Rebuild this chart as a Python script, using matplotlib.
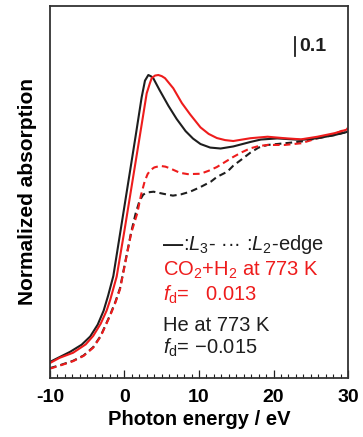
import matplotlib
matplotlib.use("Agg")
import matplotlib.pyplot as plt

plt.rcParams['font.family'] = ['Liberation Sans', 'DejaVu Sans']
plt.rcParams['mathtext.fontset'] = 'custom'
plt.rcParams['mathtext.rm'] = 'Liberation Sans'
plt.rcParams['mathtext.it'] = 'Liberation Sans:italic'
plt.rcParams['mathtext.bf'] = 'Liberation Sans:bold'

# ---- data (photon energy in eV, normalized absorption) ----
he_L3_E = [-10, -8.7, -7.3, -5.75, -4.6, -3.6, -2.8, -2.2, -1.5, -0.5, 0.5, 1.5, 2.3, 2.75, 3.2,
           3.6, 3.9, 4.7, 5.9, 7.0, 8.2, 9.2, 10.2, 11.5, 12.9, 14.6, 16.9, 18.3, 20.5, 23.7, 25.9,
           28.2, 30]
he_L3_y = [0.086, 0.112, 0.140, 0.178, 0.222, 0.285, 0.360, 0.440, 0.545, 0.795, 1.045, 1.295, 1.500,
           1.590, 1.620, 1.612, 1.600, 1.540, 1.455, 1.385, 1.320, 1.280, 1.251, 1.232, 1.227, 1.238,
           1.262, 1.275, 1.281, 1.273, 1.282, 1.299, 1.317]

co2_L3_E = [-10, -8.7, -6.9, -5.2, -4.2, -3.2, -2.4, -1.9, -1.05, 0, 1, 2, 2.98, 3.4, 3.65, 4.1,
            4.54, 5.0, 5.44, 6.55, 7.7, 8.8, 10.2, 11.3, 12.4, 13.5, 14.6, 16.9, 19.2, 21.5, 23.7,
            25.9, 28.2, 30]
co2_L3_y = [0.080, 0.108, 0.135, 0.180, 0.225, 0.290, 0.360, 0.420, 0.542, 0.790, 1.035, 1.280, 1.522,
            1.575, 1.603, 1.617, 1.620, 1.614, 1.603, 1.549, 1.470, 1.410, 1.340, 1.305, 1.283, 1.272,
            1.267, 1.282, 1.290, 1.282, 1.276, 1.290, 1.309, 1.330]

he_L2_E = [-10, -8.7, -6.9, -5.5, -4.2, -3.2, -1.95, -1.2, -0.6, 0.1, 0.9, 1.5, 2.0, 2.5, 3.0, 3.9,
           5.2, 6.5, 7.6, 8.8, 10.2, 11.6, 12.4, 13.8, 14.6, 15.6, 16.9, 18.0, 19.2, 21.5, 23.7,
           25.9, 28.2, 30]
he_L2_y = [0.053, 0.068, 0.092, 0.120, 0.165, 0.225, 0.335, 0.410, 0.480, 0.620, 0.780, 0.880, 0.945,
           0.980, 0.992, 0.996, 0.985, 0.975, 0.982, 0.996, 1.021, 1.050, 1.075, 1.103, 1.135, 1.165,
           1.205, 1.232, 1.246, 1.255, 1.264, 1.282, 1.299, 1.317]

co2_L2_E = [-10, -8.7, -6.9, -5.5, -4.2, -3.2, -1.95, -1.2, -0.6, 0.1, 0.9, 1.72, 2.2, 2.7, 3.1,
            3.5, 4.0, 4.8, 5.5, 6.1, 7.45, 8.5, 10.2, 11.3, 12.4, 13.5, 14.6, 15.8, 16.9, 18.0,
            19.2, 21.5, 23.7, 25.9, 28.2, 30]
co2_L2_y = [0.050, 0.066, 0.090, 0.118, 0.162, 0.222, 0.332, 0.405, 0.475, 0.615, 0.775, 0.881, 0.975,
            1.050, 1.090, 1.112, 1.126, 1.134, 1.130, 1.121, 1.097, 1.090, 1.092, 1.108, 1.128, 1.155,
            1.182, 1.208, 1.228, 1.240, 1.246, 1.246, 1.255, 1.282, 1.305, 1.335]

x_ticks = [-10, 0, 10, 20, 30]
x_ticklabels = ['-10', '0', '10', '20', '30']
scale_bar = 0.1

RED = '#ee1c1c'
BLK = '#1e1e1e'

fig = plt.figure(figsize=(3.63, 4.37), dpi=100)
ax = fig.add_axes([0.1377, 0.135, 0.821, 0.8513])

lw = 1.5
ax.plot(he_L2_E, he_L2_y, color=BLK, lw=lw, ls=(0, (3.2, 2.0)))
ax.plot(co2_L2_E, co2_L2_y, color=RED, lw=lw, ls=(0, (3.2, 2.0)))
ax.plot(he_L3_E, he_L3_y, color=BLK, lw=lw)
ax.plot(co2_L3_E, co2_L3_y, color=RED, lw=lw)

ax.set_xlim(-10, 30)
ax.set_ylim(0, 1.989)
ax.set_xticks(x_ticks)
ax.set_xticklabels(x_ticklabels, fontsize=14, fontweight='bold')
ax.set_xticks(range(-10, 31), minor=True)
ax.set_yticks([])
ax.tick_params(axis='x', which='major', direction='in', length=5.5, width=0.9, pad=8, color=BLK)
ax.tick_params(axis='x', which='minor', direction='in', length=3, width=0.8, color=BLK)
for s in ax.spines.values():
    s.set_linewidth(1.3)
    s.set_color('#333333')

ax.set_xlabel('Photon energy / eV', fontsize=14.5, fontweight='bold', labelpad=3)
ax.set_ylabel('Normalized absorption', fontsize=15, fontweight='bold')
ax.yaxis.set_label_coords(-0.045, 0.5)

# scale bar
ax.plot([22.9, 22.9], [1.722, 1.722 + scale_bar], color=BLK, lw=1.3)
ax.text(23.5, 1.722 + scale_bar / 2, '0.1', fontsize=14, fontweight='bold', color=BLK,
        va='center', ha='left')

# legend text
fs = 14.5
tx = 5.2
dash = ax.text(tx, 0.712, '—', fontsize=fs, fontweight='heavy', color=BLK, va='center', ha='left')
ax.annotate(r':$\mathit{L}_3$- ··· :$\mathit{L}_2$-edge', xy=(1.0, 0.5), xycoords=dash,
            fontsize=fs, color=BLK, va='center', ha='left')
ax.text(tx, 0.578, r'CO$_2$+H$_2$ at 773 K', fontsize=fs, color=RED, va='center', ha='left')
ax.text(tx, 0.444, r'$\mathit{f}_\mathrm{d}$=   0.013', fontsize=fs, color=RED, va='center', ha='left')
ax.text(tx, 0.283, 'He at 773 K', fontsize=fs, color=BLK, va='center', ha='left')
ax.text(tx, 0.160, r'$\mathit{f}_\mathrm{d}$= −0.015', fontsize=fs, color=BLK, va='center', ha='left')

fig.savefig('out.png', dpi=100)
